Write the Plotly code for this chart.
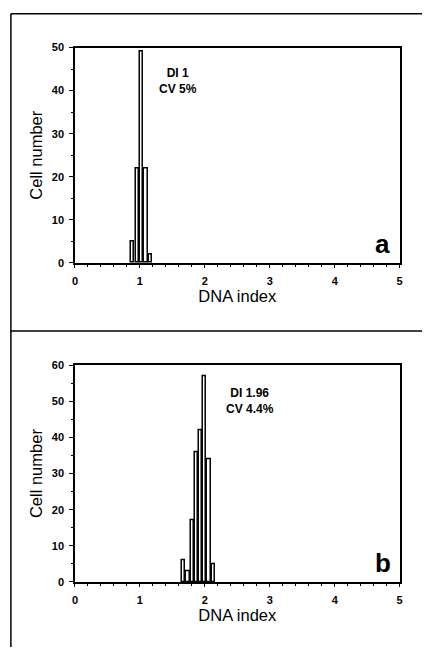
import plotly.graph_objects as go

# Panel a data
di_a = [0.89, 0.958, 1.026, 1.094, 1.162]
cells_a = [5, 22, 49, 22, 2]
# Panel b data
di_b = [1.675, 1.74, 1.805, 1.87, 1.935, 2.0, 2.065, 2.13]
cells_b = [6, 3, 17, 36, 42, 57, 34, 5]

x_ticks = [0, 1, 2, 3, 4, 5]
ya_ticks = [0, 10, 20, 30, 40, 50]
yb_ticks = [0, 10, 20, 30, 40, 50, 60]

W, H = 425, 653
FONT = "Liberation Sans, Arial, sans-serif"

fig = go.Figure()
bar_style = dict(marker=dict(color="white", line=dict(color="black", width=1.5)), width=0.05, showlegend=False)
fig.add_trace(go.Bar(x=di_a, y=cells_a, xaxis="x", yaxis="y", **bar_style))
fig.add_trace(go.Bar(x=di_b, y=cells_b, xaxis="x2", yaxis="y2", **bar_style))

xd = [73 / W, 402.3 / W]
ya_dom = [1 - 261.7 / H, 1 - 42.3 / H]
yb_dom = [1 - 586.7 / H, 1 - 366 / H]

def xaxis(anchor):
    return dict(domain=xd, anchor=anchor, range=[0, 5], tickvals=x_ticks,
                showline=True, linecolor="black", linewidth=1.5, mirror=True,
                ticks="outside", ticklen=3, tickcolor="black", tickwidth=1,
                minor=dict(dtick=0.2, ticks="outside", ticklen=2, tickcolor="black"),
                showgrid=False, zeroline=False,
                tickfont=dict(family=FONT, size=11, color="black", weight="bold"),
                ticklabelstandoff=4,
                title=dict(text="DNA index", font=dict(family=FONT, size=16.5, color="black"), standoff=5))

def yaxis(anchor, dom, rng, tv):
    return dict(domain=dom, anchor=anchor, range=rng, tickvals=tv,
                showline=True, linecolor="black", linewidth=1.5, mirror=True,
                ticks="outside", ticklen=4, tickcolor="black", tickwidth=1,
                minor=dict(dtick=5, ticks="outside", ticklen=2, tickcolor="black"),
                showgrid=False, zeroline=False,
                tickfont=dict(family=FONT, size=11, color="black", weight="bold"),
                ticklabelstandoff=3,
                title=dict(text="Cell number", font=dict(family=FONT, size=16.5, color="black"), standoff=5))

ann_font = dict(family=FONT, size=12, color="black", weight="bold")
annotations = [
    dict(x=1.58, y=42.2, xref="x", yref="y", text="DI 1<br>CV 5%", showarrow=False, font=ann_font, align="center"),
    dict(x=2.69, y=50.2, xref="x2", yref="y2", text="DI 1.96<br>CV 4.4%", showarrow=False, font=ann_font, align="center"),
    dict(x=4.74, y=4.5, xref="x", yref="y", text="a", showarrow=False,
         font=dict(family=FONT, size=26, color="black", weight="bold")),
    dict(x=4.75, y=5.3, xref="x2", yref="y2", text="b", showarrow=False,
         font=dict(family=FONT, size=26, color="black", weight="bold")),
]

line = dict(color="black", width=1.5)
shapes = [
    dict(type="line", xref="paper", yref="paper", x0=8 / W, x1=1, y0=1 - 8 / H, y1=1 - 8 / H, line=line),
    dict(type="line", xref="paper", yref="paper", x0=8 / W, x1=8 / W, y0=0, y1=1 - 8 / H, line=line),
    dict(type="line", xref="paper", yref="paper", x0=8 / W, x1=1, y0=1 - 331 / H, y1=1 - 331 / H, line=line),
]

fig.update_layout(
    width=W, height=H, margin=dict(l=0, r=0, t=0, b=0),
    paper_bgcolor="white", plot_bgcolor="white",
    xaxis=xaxis("y"), yaxis=yaxis("x", ya_dom, [0, 50], ya_ticks),
    xaxis2=xaxis("y2"), yaxis2=yaxis("x2", yb_dom, [0, 60], yb_ticks),
    annotations=annotations, shapes=shapes, bargap=0, showlegend=False,
)

fig.write_html("out.html", config={"displayModeBar": False},
               post_script="document.body.style.margin='0';document.body.style.overflow='hidden';")
